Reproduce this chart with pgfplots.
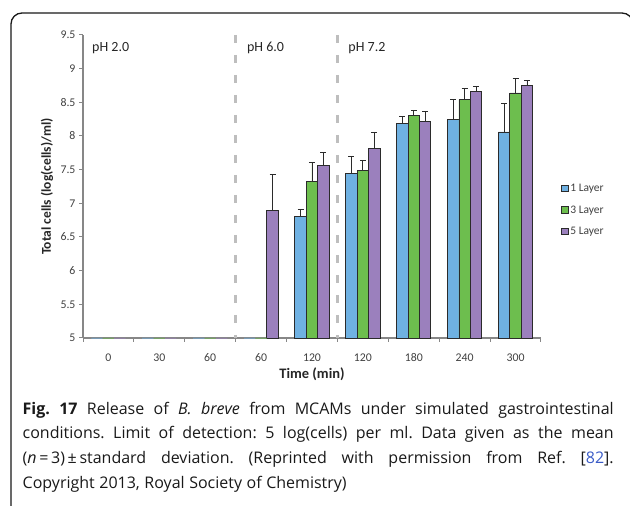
\documentclass[border=0pt]{standalone}
\usepackage{fontspec}
\setmainfont{Carlito}
\newfontfamily\capfont{Open Sans}
\usepackage{pgfplots}
\pgfplotsset{compat=1.18}
\definecolor{cBlue}{HTML}{6FB1E2}
\definecolor{cGreen}{HTML}{6DBE4E}
\definecolor{cPurple}{HTML}{9B80BD}
\definecolor{axisgray}{HTML}{878787}
\definecolor{ticktext}{HTML}{404040}
\definecolor{dashgray}{HTML}{BEBEBE}
\definecolor{barline}{HTML}{2B2B2B}
\definecolor{refblue}{HTML}{3A5BC7}
\pgfplotsset{
  mybar/.style={ybar, bar width=0.224, bar shift=0, fill=#1, draw=barline, line width=0.8pt,
    legend image code/.code={\draw[fill=#1, draw=barline, line width=0.9pt] (0pt,-3.3pt) rectangle (6.6pt,3.3pt);},
    error bars/.cd, y dir=plus, y explicit,
    error bar style={draw=barline, line width=0.8pt},
    error mark options={rotate=90, draw=barline, line width=0.8pt, mark size=3pt}},
  lodbar/.style={forget plot, ybar, bar width=0.224, bar shift=0, fill=#1, draw=#1!80!gray, line width=0.6pt},
}
\begin{document}
\begin{tikzpicture}
\useasboundingbox (0pt,0pt) rectangle (630pt,506pt);
\draw[line width=1.3pt, black!90, rounded corners=11pt] (11pt,-30pt) rectangle (633pt,493pt);
\begin{axis}[
  at={(83pt,168pt)}, anchor=south west, scale only axis,
  width=458pt, height=303pt,
  xmin=-0.5, xmax=8.5, ymin=5, ymax=9.5,
  axis lines=left,
  axis line style={-, draw=axisgray, line width=1.3pt},
  ytick={5,5.5,6,6.5,7,7.5,8,8.5,9,9.5},
  yticklabels={5,5.5,6,6.5,7,7.5,8,8.5,9,9.5},
  xtick={0,1,2,3,4,5,6,7,8},
  xticklabels={0,30,60,60,120,120,180,240,300},
  minor xtick={-0.5,0.5,1.5,2.5,3.5,4.5,5.5,6.5,7.5,8.5},
  tick align=outside,
  major tick length=4pt, minor tick length=4pt,
  major x tick style={draw=none},
  minor x tick style={draw=axisgray, line width=1pt},
  y tick style={draw=axisgray, line width=1pt},
  xticklabel style={font=\fontsize{11.8}{12}\selectfont, text=ticktext, anchor=center, yshift=-16pt},
  yticklabel style={font=\fontsize{11.8}{12}\selectfont, text=ticktext, anchor=east},
  xlabel={Time (min)},
  ylabel={Total cells (log(cells)/ml)},
  xlabel style={font=\bfseries\fontsize{14.5}{15}\selectfont, text=black!85, at={(axis description cs:0.5,-0.119)}, anchor=center},
  ylabel style={font=\bfseries\fontsize{13.5}{14}\selectfont, text=black!85, at={(axis description cs:-0.0786,0.5)}, anchor=center},
  legend style={at={(axis description cs:1.044,0.4224)}, anchor=west, draw=none, fill=none,
    font=\fontsize{11.5}{13}\selectfont, text=ticktext, row sep=9.5pt, inner sep=0pt,
    nodes={inner sep=1.5pt}},
  legend cell align=left,
  clip=false,
]
\draw[dashgray, line width=2.7pt, dash pattern=on 8pt off 12pt] (axis cs:2.5,9.5) -- (axis cs:2.5,5);
\draw[dashgray, line width=2.7pt, dash pattern=on 8pt off 12pt] (axis cs:4.5,9.5) -- (axis cs:4.5,5);
\node[anchor=base west, font=\fontsize{14}{16}\selectfont, text=black!85, inner sep=0] at (axis cs:-0.323,9.248) {pH 2.0};
\node[anchor=base west, font=\fontsize{14}{16}\selectfont, text=black!85, inner sep=0] at (axis cs:2.72,9.248) {pH 6.0};
\node[anchor=base west, font=\fontsize{14}{16}\selectfont, text=black!85, inner sep=0] at (axis cs:4.712,9.248) {pH 7.2};

% groups at x = 0..8; 1 Layer at x-0.224, 3 Layer at x, 5 Layer at x+0.224
\addplot[mybar=cBlue]
  coordinates {(3.776,6.81) +- (0,0.10) (4.776,7.45) +- (0,0.24) (5.776,8.18) +- (0,0.11) (6.776,8.24) +- (0,0.31) (7.776,8.06) +- (0,0.42)};
\addlegendentry{1 Layer}
\addplot[mybar=cGreen]
  coordinates {(4,7.32) +- (0,0.29) (5,7.49) +- (0,0.15) (6,8.30) +- (0,0.08) (7,8.54) +- (0,0.16) (8,8.64) +- (0,0.22)};
\addlegendentry{3 Layer}
\addplot[mybar=cPurple]
  coordinates {(3.224,6.90) +- (0,0.53) (4.224,7.56) +- (0,0.20) (5.224,7.81) +- (0,0.25) (6.224,8.21) +- (0,0.16) (7.224,8.66) +- (0,0.07) (8.224,8.75) +- (0,0.08)};
\addlegendentry{5 Layer}
% values at the limit of detection (no spread)
\addplot[lodbar=cBlue] coordinates {(-0.224,5) (0.776,5) (1.776,5) (2.776,5)};
\addplot[lodbar=cGreen] coordinates {(0,5) (1,5) (2,5) (3,5)};
\addplot[lodbar=cPurple] coordinates {(0.224,5) (1.224,5) (2.224,5)};
\end{axis}
\begin{scope}[font=\capfont\frenchspacing\fontsize{16}{18}\selectfont, every node/.style={anchor=base west, inner sep=0pt, text=black!90}]
\node at (22.5pt,91.7pt) {\makebox[591pt][s]{\textbf{Fig. 17} Release of \textit{B. breve} from MCAMs under simulated gastrointestinal}};
\node at (22.5pt,67pt) {\makebox[591pt][s]{conditions. Limit of detection: 5 log(cells) per ml. Data given as the mean}};
\node at (22.5pt,42pt) {\makebox[591pt][s]{(\textit{n}\,=\,3)\,±\,standard deviation. (Reprinted with permission from Ref. [\textcolor{refblue}{82}].}};
\node at (22.5pt,17pt) {\makebox[324pt][s]{Copyright 2013, Royal Society of Chemistry)}};
\end{scope}
\end{tikzpicture}
\end{document}
